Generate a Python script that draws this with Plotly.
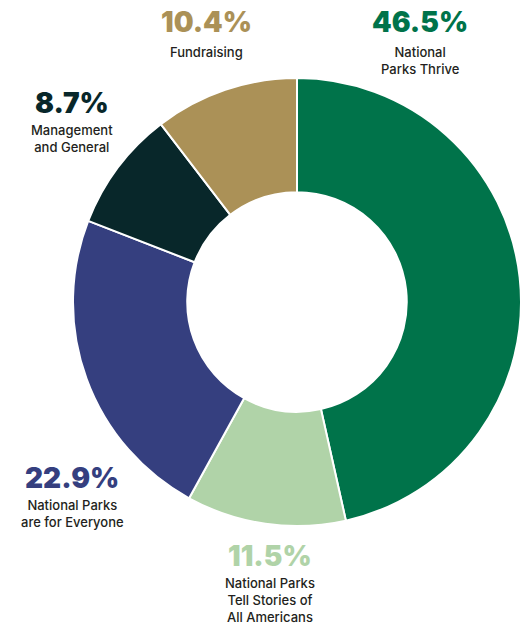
import plotly.graph_objects as go

categories = ["National Parks Thrive", "National Parks Tell Stories of All Americans",
              "National Parks are for Everyone", "Management and General", "Fundraising"]
values = [46.5, 11.5, 22.9, 8.7, 10.4]
pct_labels = ["46.5%", "11.5%", "22.9%", "8.7%", "10.4%"]
sub_labels = ["National<br>Parks Thrive",
              "National Parks<br>Tell Stories of<br>All Americans",
              "National Parks<br>are for Everyone",
              "Management<br>and General",
              "Fundraising"]
colors = ["#00734A", "#B0D3A8", "#353F7F", "#08272A", "#AB9157"]

W, H = 521, 626

fig = go.Figure(go.Pie(
    labels=categories, values=values, sort=False, direction="clockwise", rotation=0,
    hole=0.49, marker=dict(colors=colors, line=dict(color="white", width=2)),
    textinfo="none", hoverinfo="label+percent", showlegend=False,
    domain=dict(x=[73 / W, 521 / W], y=[(H - 526) / H, (H - 78) / H]),
))

# label positions in pixels: (center x, y of percentage, y of sub-label block center)
pos = [(420, 22, 60), (270, 556, 600), (72, 478, 513.5), (72, 103, 138.5), (206, 22, 52)]
anns = []
for (x, yp, ys), p, s, c in zip(pos, pct_labels, sub_labels, colors):
    anns.append(dict(x=x / W, y=1 - yp / H, xref="paper", yref="paper", text=p,
                     showarrow=False, xanchor="center", yanchor="middle",
                     font=dict(family="Inter", size=28, color=c, weight=900)))
    anns.append(dict(x=x / W, y=1 - ys / H, xref="paper", yref="paper",
                     text=s, showarrow=False, xanchor="center", yanchor="middle",
                     align="center", borderpad=0,
                     font=dict(family="Inter", size=13, color="#231F20", weight=500)))

fig.update_layout(width=W, height=H, margin=dict(l=0, r=0, t=0, b=0),
                  paper_bgcolor="white", plot_bgcolor="white", annotations=anns)
fig.write_html("out.html", config=dict(displayModeBar=False),
               post_script="document.body.style.margin='0';document.body.style.overflow='hidden';")
